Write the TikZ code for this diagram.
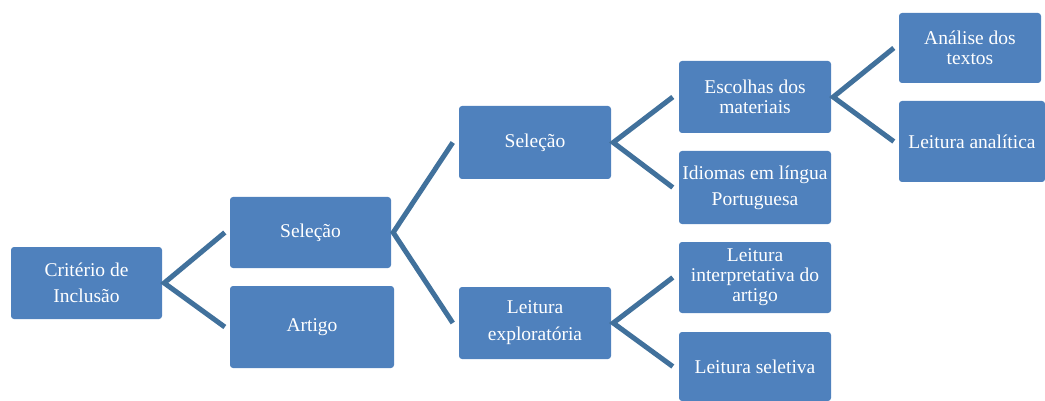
\documentclass[tikz,border=0pt]{standalone}
\usepackage{amsmath}
\usepackage{fontspec}
\setmainfont{Liberation Serif}
\definecolor{boxblue}{HTML}{4F81BD}
\definecolor{linkblue}{HTML}{41719C}
\tikzset{
  box/.style={fill=boxblue, rounded corners=3pt, text=white, align=center,
    inner sep=1pt, font=\fontsize{19.5}{20}\selectfont},
  link/.style={draw=linkblue, line width=5pt, miter limit=4}
}
\begin{document}
\begin{tikzpicture}[x=1pt, y=-1pt]
\useasboundingbox (0,0) rectangle (1045,401);
% level 1
\node [box, minimum width=151pt, minimum height=72pt] (crit) at (86.5,283) {Crit\'erio de\\[6pt]Inclus\~ao};
% level 2
\node [box, minimum width=161pt, minimum height=71pt] (sela) at (310.5,232.5) {Sele\c{c}\~ao};
\node [box, minimum width=164pt, minimum height=82pt] (artigo) at (312,327) {Artigo};
% level 3
\node [box, minimum width=152pt, minimum height=73pt] (selb) at (535,142.5) {Sele\c{c}\~ao};
\node [box, minimum width=152pt, minimum height=72pt] (explor) at (535,323) {Leitura\\[7pt]explorat\'oria};
% level 4
\node [box, minimum width=152pt, minimum height=72pt] (escolhas) at (755,97) {Escolhas dos\\materiais};
\node [box, minimum width=152pt, minimum height=73pt] (idiomas) at (755,187.5) {Idiomas em l\'{\i}ngua\\[6pt]Portuguesa};
\node [box, minimum width=152pt, minimum height=71pt] (interp) at (755,277.5) {Leitura\\interpretativa do\\artigo};
\node [box, minimum width=152pt, minimum height=69pt] (seletiva) at (755,366.5) {Leitura seletiva};
% level 5
\node [box, minimum width=142pt, minimum height=70pt] (analise) at (970,48) {An\'alise dos\\textos};
\node [box, minimum width=146pt, minimum height=81pt] (analitica) at (972,141.5) {Leitura anal\'{\i}tica};

% connectors
\draw [link] ([xshift=-5pt]sela.west) -- ([xshift=2pt]crit.east) -- ([xshift=-5pt]artigo.west);
\draw [link] ([xshift=-6pt]selb.west) -- ([xshift=2pt]sela.east) -- ([xshift=-6pt]explor.west);
\draw [link] ([xshift=-6pt]escolhas.west) -- ([xshift=2pt]selb.east) -- ([xshift=-6pt]idiomas.west);
\draw [link] ([xshift=-6pt]interp.west) -- ([xshift=2pt]explor.east) -- ([xshift=-6pt]seletiva.west);
\draw [link] ([xshift=-5pt]analise.west) -- ([xshift=2pt]escolhas.east) -- ([xshift=-5pt]analitica.west);
\end{tikzpicture}
\end{document}
